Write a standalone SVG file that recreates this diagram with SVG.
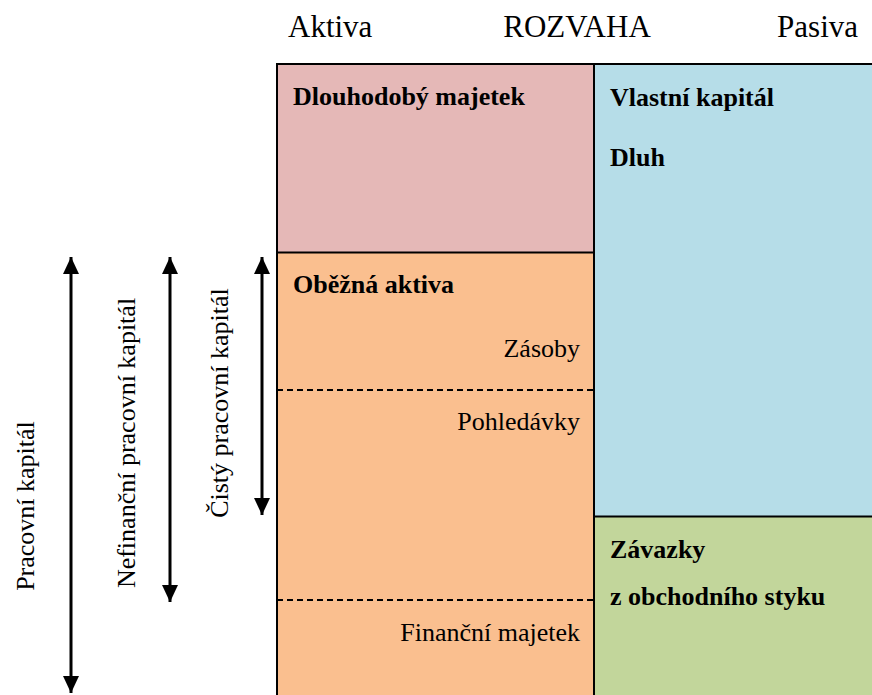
<svg xmlns="http://www.w3.org/2000/svg" width="872" height="695" viewBox="0 0 872 695" font-family="'Liberation Serif', 'DejaVu Serif', serif">
<style>
text{font-family:'Liberation Serif','DejaVu Serif',serif;fill:#000}
.h{font-size:31px}
.b{font-size:26px;font-weight:bold}
.r{font-size:26px}
.edge{stroke:#000;stroke-width:2;fill:none}
.dash{stroke:#000;stroke-width:2;stroke-dasharray:6 4;fill:none}
.arr{stroke:#000;stroke-width:3;fill:none;marker-start:url(#ah);marker-end:url(#ah)}
</style>
<defs>
<marker id="ah" markerUnits="userSpaceOnUse" viewBox="0 0 17 16" refX="17" refY="8" markerWidth="17" markerHeight="16" orient="auto-start-reverse">
<path d="M0,0 L17,8 L0,16 Z" fill="#000"/>
</marker>
</defs>
<rect width="872" height="695" fill="#fff"/>
<g id="titles">
<text class="h" x="288" y="37">Aktiva</text>
<text class="h" x="577" y="37" text-anchor="middle">ROZVAHA</text>
<text class="h" x="858" y="37" text-anchor="end">Pasiva</text>
</g>
<g id="dlouhodoby">
<rect x="277" y="64" width="317" height="189" fill="#E5B8B7"/>
<text class="b" x="293" y="105">Dlouhodobý majetek</text>
</g>
<g id="obezna">
<rect x="277" y="253" width="317" height="442" fill="#FABF8F"/>
<text class="b" x="293" y="293">Oběžná aktiva</text>
<text class="r" x="580" y="357" text-anchor="end">Zásoby</text>
<text class="r" x="580" y="430" text-anchor="end">Pohledávky</text>
<text class="r" x="580" y="641" text-anchor="end">Finanční majetek</text>
</g>
<g id="vlastni">
<rect x="594" y="64" width="278" height="453" fill="#B6DDE8"/>
<text class="b" x="610" y="106">Vlastní kapitál</text>
<text class="b" x="610" y="166">Dluh</text>
</g>
<g id="zavazky">
<rect x="594" y="517" width="278" height="178" fill="#C2D69B"/>
<text class="b" x="610" y="558">Závazky</text>
<text class="b" x="610" y="605">z obchodního styku</text>
</g>
<g id="lines">
<path class="edge" d="M277,695 V64 H872"/>
<path class="edge" d="M594,64 V695"/>
<path class="edge" d="M277,252.5 H594"/>
<path class="edge" d="M594,516.5 H872"/>
<path class="dash" d="M277,390 H593"/>
<path class="dash" d="M277,600 H593"/>
</g>
<g id="connectors">
<line class="arr" x1="71" y1="257" x2="71" y2="693"/>
<line class="arr" x1="170" y1="257" x2="170" y2="602"/>
<line class="arr" x1="262" y1="257" x2="262" y2="515"/>
</g>
<g id="vlabels">
<text class="r" transform="translate(34,506) rotate(-90)" text-anchor="middle">Pracovní kapitál</text>
<text class="r" transform="translate(135,443) rotate(-90)" text-anchor="middle">Nefinanční pracovní kapitál</text>
<text class="r" transform="translate(228,403) rotate(-90)" text-anchor="middle">Čistý pracovní kapitál</text>
</g>
</svg>
